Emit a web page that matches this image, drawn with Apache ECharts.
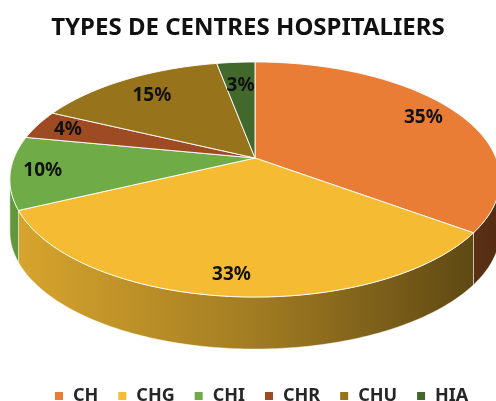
<!DOCTYPE html>
<html>
<head>
<meta charset="utf-8">
<script src="https://cdn.jsdelivr.net/npm/echarts@6/dist/echarts.min.js"></script>
<style>
  html, body { margin: 0; padding: 0; background: #fff; }
  #chart { width: 496px; height: 401px; }
</style>
</head>
<body>
<div id="chart"></div>
<script>
// data
var categories = ['CH', 'CHG', 'CHI', 'CHR', 'CHU', 'HIA'];
var values = [35, 33, 10, 4, 15, 3];
var colors = ['#EA7D35', '#F5BC33', '#6FAC47', '#9E4A22', '#97741B', '#43682B'];

var total = values.reduce(function (a, b) { return a + b; }, 0);

// tilted pie geometry (perspective squash of a circle)
var cx = 255, cy = 158, R = 241, Ry = 113.6, p = 0.183, depth = 52;

function proj(deg, f) {
    var t = deg * Math.PI / 180;
    var u = Math.sin(t), v = Math.cos(t);
    var w = 1 + p * f * v;
    return [cx + R * f * u / w, cy - Ry * f * v / w];
}

function shade(hex, k) {
    var n = parseInt(hex.slice(1), 16);
    var r = Math.round(((n >> 16) & 255) * k);
    var g = Math.round(((n >> 8) & 255) * k);
    var b = Math.round((n & 255) * k);
    return 'rgb(' + r + ',' + g + ',' + b + ')';
}

// side of the cylinder is visible between the two silhouette points
var sideFrom = 90 + Math.asin(p) * 180 / Math.PI;
var sideTo = 270 - Math.asin(p) * 180 / Math.PI;

function renderSlice(params, api) {
    var i = params.dataIndex;
    var before = 0;
    for (var k = 0; k < i; k++) before += values[k];
    var a = before / total * 360;
    var b = (before + api.value(0)) / total * 360;
    var color = colors[i];
    var children = [];

    // top face
    var pts = [[cx, cy]];
    for (var d = a; d < b; d += 1) pts.push(proj(d, 1));
    pts.push(proj(b, 1));
    children.push({
        type: 'polygon',
        z2: 10,
        shape: { points: pts },
        style: { fill: color, stroke: 'rgba(255,255,255,0.9)', lineWidth: 1 }
    });

    // front side
    var s0 = Math.max(a, sideFrom), s1 = Math.min(b, sideTo);
    if (s1 > s0) {
        var top = [], bottom = [];
        for (var d2 = s0; d2 < s1; d2 += 1) top.push(proj(d2, 1));
        top.push(proj(s1, 1));
        for (var j = top.length - 1; j >= 0; j--) bottom.push([top[j][0], top[j][1] + depth]);
        children.push({
            type: 'polygon',
            z2: 1,
            shape: { points: top.concat(bottom) },
            style: {
                fill: {
                    type: 'linear', x: cx - R, y: 0, x2: cx + R, y2: 0, global: true,
                    colorStops: [
                        { offset: 0, color: shade(color, 0.88) },
                        { offset: 0.5, color: shade(color, 0.66) },
                        { offset: 1, color: shade(color, 0.36) }
                    ]
                },
                stroke: 'rgba(255,255,255,0.6)', lineWidth: 0.8
            }
        });
    }

    // percent label, pulled in a bit for slices at the back
    var mid = (a + b) / 2;
    var back = Math.max(Math.cos(mid * Math.PI / 180), 0);
    var lp = proj(mid, 0.87 - 0.15 * back * back);
    children.push({
        type: 'text',
        z2: 100,
        x: lp[0], y: lp[1],
        style: {
            text: Math.round(api.value(0) / total * 100) + '%',
            font: 'bold 19px "Noto Sans"',
            fill: '#111',
            align: 'center',
            verticalAlign: 'middle'
        }
    });

    return { type: 'group', children: children };
}

var myChart = echarts.init(document.getElementById('chart'));
var option = {
    animation: false,
    color: colors,
    title: {
        text: 'TYPES DE CENTRES HOSPITALIERS',
        left: 'center',
        top: 11,
        textStyle: { fontFamily: 'Noto Sans', fontWeight: 'bold', fontSize: 24, color: '#111' }
    },
    legend: {
        data: categories,
        left: 50,
        top: 382,
        icon: 'rect',
        itemWidth: 8,
        itemHeight: 8,
        itemGap: 20,
        textStyle: { fontFamily: 'Noto Sans', fontWeight: 'bold', fontSize: 18, color: '#262626', padding: [0, 0, 0, 5] }
    },
    series: [
        {
            type: 'custom',
            coordinateSystem: 'none',
            renderItem: renderSlice,
            data: values
        },
        {
            // only feeds the legend
            type: 'pie',
            silent: true,
            radius: [0, 0],
            center: [-200, -200],
            label: { show: false },
            labelLine: { show: false },
            data: categories.map(function (n, i) { return { name: n, value: values[i] }; })
        }
    ]
};
myChart.setOption(option);
</script>
</body>
</html>
